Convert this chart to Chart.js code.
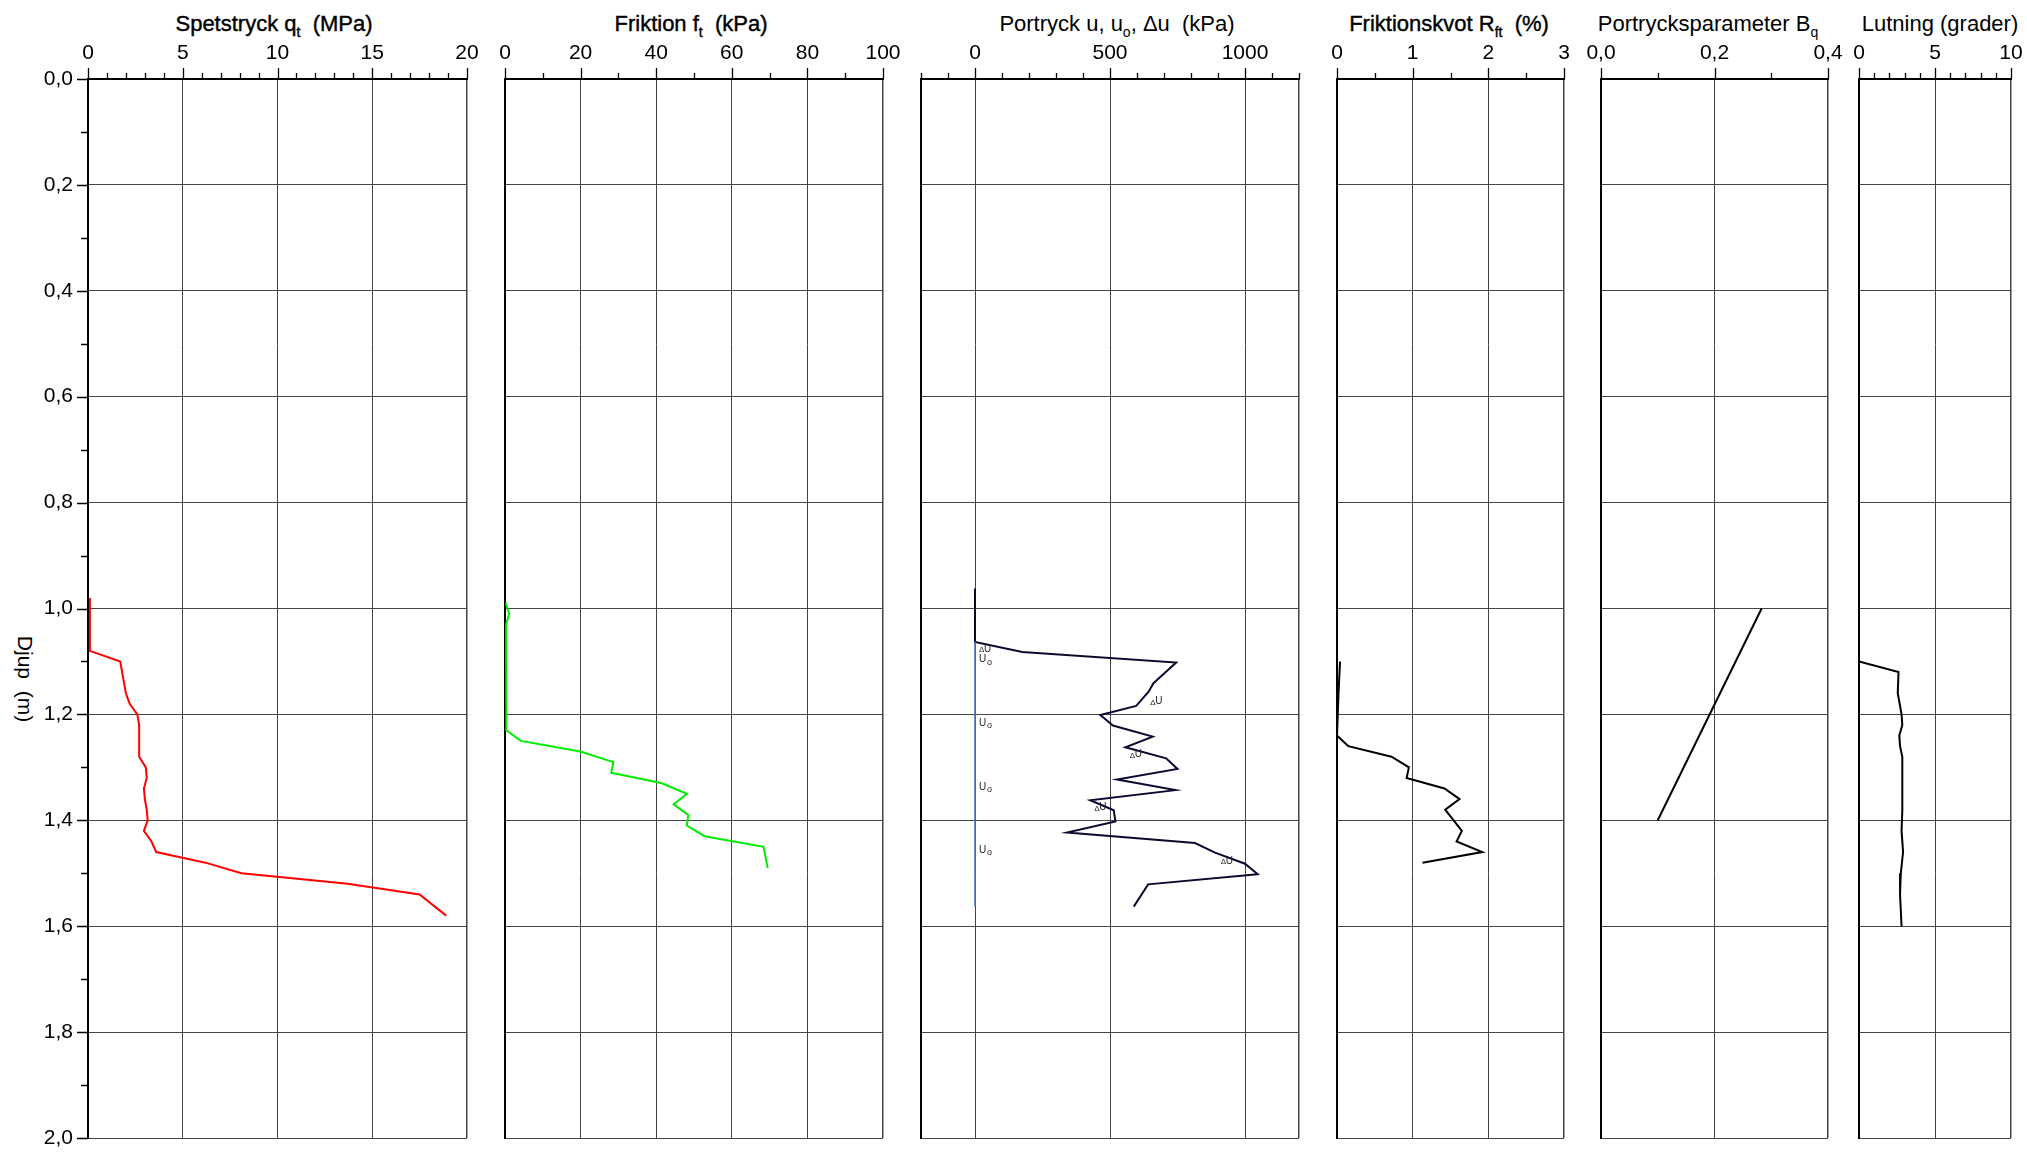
<!DOCTYPE html>
<html>
<head>
<meta charset="utf-8">
<script src="https://cdn.jsdelivr.net/npm/chart.js@4.4.1/dist/chart.umd.min.js"></script>
<style>
body{margin:0;background:#fff;width:2027px;height:1152px;position:relative;overflow:hidden;font-family:"Liberation Sans",Arial,sans-serif;color:#000}
canvas{position:absolute;top:0}
.ttl{position:absolute;top:13px;font-size:22px;line-height:22px;white-space:pre;transform:translateX(-50%)}
.ttl span{position:relative;top:6px;font-size:14px}
.heavy{-webkit-text-stroke:0.4px #000}
#djup{position:absolute;left:25px;top:679px;font-size:21px;line-height:21px;white-space:pre;transform:translate(-50%,-50%) rotate(90deg)}
</style>
</head>
<body>
<div class="ttl heavy" style="left:274px">Spetstryck q<span>t</span>  (MPa)</div>
<div class="ttl heavy" style="left:691px">Friktion f<span>t</span>  (kPa)</div>
<div class="ttl" style="left:1117px">Portryck u, u<span>o</span>, Δu  (kPa)</div>
<div class="ttl heavy" style="left:1449px">Friktionskvot R<span>ft</span>  (%)</div>
<div class="ttl" style="left:1708px">Portrycksparameter B<span>q</span></div>
<div class="ttl" style="left:1940px">Lutning (grader)</div>
<div id="djup">Djup  (m)</div>

<canvas id="p1"></canvas>
<canvas id="p2"></canvas>
<canvas id="p3"></canvas>
<canvas id="p4"></canvas>
<canvas id="p5"></canvas>
<canvas id="p6"></canvas>

<script>
// Spetstryck qt (MPa)
const qtDepth = [0.98, 1.08, 1.10, 1.16, 1.18, 1.20, 1.22, 1.28, 1.30, 1.32, 1.34, 1.36, 1.38, 1.40, 1.42, 1.44, 1.46, 1.48, 1.50, 1.52, 1.54, 1.58];
const qtValue = [0.1, 0.1, 1.7, 2.0, 2.2, 2.6, 2.7, 2.7, 3.05, 3.1, 2.95, 3.0, 3.1, 3.15, 2.95, 3.35, 3.6, 6.2, 8.1, 13.7, 17.5, 18.9];

// Friktion ft (kPa)
const ftDepth = [0.99, 1.01, 1.03, 1.21, 1.23, 1.25, 1.27, 1.29, 1.31, 1.33, 1.35, 1.37, 1.39, 1.41, 1.43, 1.45, 1.49];
const ftValue = [0.2, 1.1, 0.3, 0.3, 0.4, 4.2, 19.9, 28.7, 28.1, 41.5, 48.1, 44.6, 48.5, 48.1, 52.8, 68.4, 69.5];

// Portryck u (kPa)
const uDepth = [0.962, 1.063, 1.082, 1.102, 1.141, 1.157, 1.184, 1.201, 1.221, 1.242, 1.262, 1.283, 1.303, 1.323, 1.343, 1.362, 1.381, 1.402, 1.423, 1.443, 1.461, 1.482, 1.502, 1.521, 1.563];
const uValue = [0, 0, 175, 745, 661, 643, 597, 464, 511, 658, 557, 708, 750, 526, 742, 427, 514, 520, 341, 815, 889, 1000, 1047, 641, 588];
const u0Depth = [1.063, 1.563];
const u0Value = [0, 0];

// small labels in the pore pressure panel
const duLabelDepth = [1.077, 1.176, 1.276, 1.376, 1.477];
const duLabelValue = [15, 649, 573, 442, 910];
const u0LabelDepth = [1.096, 1.216, 1.337, 1.456];
const u0LabelValue = [15, 15, 15, 15];

// Friktionskvot Rft (%)
const rfDepth = [1.10, 1.16, 1.24, 1.26, 1.28, 1.30, 1.32, 1.34, 1.36, 1.38, 1.42, 1.44, 1.46, 1.48];
const rfValue = [0.04, 0.02, 0.0, 0.15, 0.72, 0.95, 0.92, 1.42, 1.62, 1.43, 1.65, 1.58, 1.92, 1.13];

// Portrycksparameter Bq
const bqDepth = [1.00, 1.40];
const bqValue = [0.283, 0.100];

// Lutning (grader)
const lutDepth = [1.00, 1.10, 1.12, 1.16, 1.20, 1.22, 1.24, 1.26, 1.28, 1.32, 1.38, 1.42, 1.46, 1.50, 1.54, 1.60];
const lutValue = [0.0, 0.0, 2.6, 2.55, 2.8, 2.85, 2.65, 2.7, 2.85, 2.85, 2.85, 2.8, 2.9, 2.75, 2.7, 2.8];

Chart.defaults.font.family = '"Liberation Sans", Arial, sans-serif';
Chart.defaults.color = '#000';

const TOP = 79, BOTTOM = 1138, PAD = 30;

function pts(depths, values) {
    return depths.map((d, i) => ({x: values[i], y: d}));
}

function isMajor(v, step) {
    return Math.abs(v / step - Math.round(v / step)) < 1e-6;
}

function line(data, color, width) {
    return {data: data, borderColor: color, borderWidth: width, pointRadius: 0, showLine: true, tension: 0, fill: false};
}

// short and long tick marks drawn on top of the library scales
const tickMarks = {
    id: 'tickMarks',
    afterDraw(chart, args, opts) {
        const ctx = chart.ctx, xs = chart.scales.x, ys = chart.scales.y, area = chart.chartArea;
        ctx.save();
        ctx.strokeStyle = '#000';
        ctx.lineWidth = 1.3;
        ctx.beginPath();
        xs.ticks.forEach(t => {
            const px = Math.round(xs.getPixelForValue(t.value)) + 0.5;
            const len = isMajor(t.value, opts.major) ? 11 : 6;
            ctx.moveTo(px, area.top);
            ctx.lineTo(px, area.top - len);
        });
        if (opts.yTicks) {
            ys.ticks.forEach(t => {
                const py = Math.round(ys.getPixelForValue(t.value)) + 0.5;
                const len = isMajor(t.value, 0.2) ? 11 : 7;
                ctx.moveTo(area.left, py);
                ctx.lineTo(area.left - len, py);
            });
        }
        ctx.stroke();
        ctx.restore();
    }
};

// ΔU and Uo markers in the pore pressure panel
const uLabels = {
    id: 'uLabels',
    afterDatasetsDraw(chart) {
        if (chart.canvas.id !== 'p3') return;
        const ctx = chart.ctx, xs = chart.scales.x, ys = chart.scales.y;
        ctx.save();
        ctx.fillStyle = '#222';
        ctx.textBaseline = 'middle';
        duLabelDepth.forEach((d, i) => {
            const px = xs.getPixelForValue(duLabelValue[i]), py = ys.getPixelForValue(d);
            ctx.font = '8px "Liberation Sans", Arial';
            ctx.fillText('Δ', px, py + 1);
            ctx.font = '10px "Liberation Sans", Arial';
            ctx.fillText('U', px + 5, py);
        });
        u0LabelDepth.forEach((d, i) => {
            const px = xs.getPixelForValue(u0LabelValue[i]), py = ys.getPixelForValue(d);
            ctx.font = '10px "Liberation Sans", Arial';
            ctx.fillText('U', px, py);
            ctx.font = '9px "Liberation Sans", Arial';
            ctx.fillText('o', px + 8, py + 3);
        });
        ctx.restore();
    }
};

function panel(id, p, datasets) {
    const first = id === 'p1';
    const canvas = document.getElementById(id);
    const canvasLeft = first ? 0 : p.left - PAD;
    canvas.width = p.right - canvasLeft + PAD;
    canvas.height = 1152;
    canvas.style.left = canvasLeft + 'px';

    new Chart(canvas, {
    type: 'scatter',
    data: {datasets: datasets},
    options: {
        responsive: false,
        animation: false,
        layout: {
            padding: {left: first ? 0 : PAD, right: PAD, top: 0, bottom: 1152 - BOTTOM}
        },
        scales: {
            x: {
                type: 'linear',
                position: 'top',
                min: p.min,
                max: p.max,
                afterFit: s => {
                    s.height = TOP;
                    s.paddingLeft = 0; s.paddingRight = 0;
                },
                border: {display: true, color: '#000', width: 2},
                grid: {
                    drawTicks: false,
                    color: c => (isMajor(c.tick.value, p.major) || c.tick.value === p.max) ? '#444' : 'rgba(0,0,0,0)',
                    lineWidth: c => c.tick.value === p.max ? 1.5 : 1
                },
                ticks: {
                    stepSize: p.step,
                    maxTicksLimit: 100,
                    autoSkip: false,
                    maxRotation: 0,
                    padding: 13,
                    font: {size: 21},
                    color: '#000',
                    callback: v => isMajor(v, p.major) ? p.fmt(v) : ''
                }
            },
            y: {
                type: 'linear',
                reverse: true,
                min: 0,
                max: 2,
                afterFit: s => {
                    s.width = first ? p.left : 0;
                    s.paddingTop = 0; s.paddingBottom = 0;
                },
                border: {display: true, color: '#000', width: 2},
                grid: {
                    drawTicks: false,
                    color: c => isMajor(c.tick.value, 0.2) ? '#444' : 'rgba(0,0,0,0)',
                    lineWidth: 1
                },
                ticks: {
                    display: first,
                    stepSize: 0.1,
                    maxTicksLimit: 100,
                    autoSkip: false,
                    padding: 15,
                    font: {size: 21},
                    color: '#000',
                    callback: v => isMajor(v, 0.2) ? v.toFixed(1).replace('.', ',') : ''
                }
            }
        },
        plugins: {
            legend: {display: false},
            tooltip: {enabled: false},
            tickMarks: {major: p.major, yTicks: first}
        }
    },
    plugins: [tickMarks, uLabels]
    });
}

const intFmt = v => String(Math.round(v));

panel('p1', {left: 88, right: 467, min: 0, max: 20, step: 1, major: 5, fmt: intFmt},
    [line(pts(qtDepth, qtValue), '#ff0000', 2)]);

panel('p2', {left: 505, right: 883, min: 0, max: 100, step: 10, major: 20, fmt: intFmt},
    [line(pts(ftDepth, ftValue), '#00ee00', 2)]);

panel('p3', {left: 921, right: 1299, min: -200, max: 1200, step: 100, major: 500, fmt: intFmt},
    [line(pts(u0Depth, u0Value), '#3c78b4', 1.5),
     line(pts(uDepth, uValue), '#0a0a30', 2)]);

panel('p4', {left: 1337, right: 1564, min: 0, max: 3, step: 0.5, major: 1, fmt: intFmt},
    [line(pts(rfDepth, rfValue), '#000', 2)]);

panel('p5', {left: 1601, right: 1828, min: 0, max: 0.4, step: 0.1, major: 0.2, fmt: v => v.toFixed(1).replace('.', ',')},
    [line(pts(bqDepth, bqValue), '#000', 2)]);

panel('p6', {left: 1859, right: 2011, min: 0, max: 10, step: 1, major: 5, fmt: intFmt},
    [line(pts(lutDepth, lutValue), '#000', 2)]);
</script>
</body>
</html>
